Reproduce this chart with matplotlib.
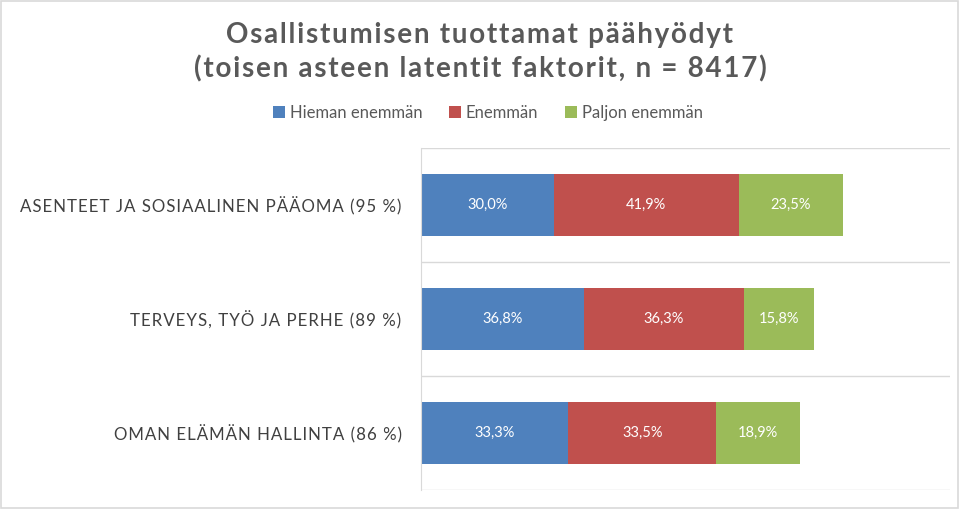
import matplotlib.pyplot as plt
from matplotlib.patches import Rectangle

# data
categories = ['ASENTEET JA SOSIAALINEN PÄÄOMA (95 %)',
              'TERVEYS, TYÖ JA PERHE (89 %)',
              'OMAN ELÄMÄN HALLINTA (86 %)']
series_names = ['Hieman enemmän', 'Enemmän', 'Paljon enemmän']
hieman = [30.0, 36.8, 33.3]
enemman = [41.9, 36.3, 33.5]
paljon = [23.5, 15.8, 18.9]
colors = ['#4F81BD', '#C0504D', '#9BBB59']

title_lines = ['Osallistumisen tuottamat päähyödyt',
               '(toisen asteen latentit faktorit, n = 8417)']

fam = ['Lato', 'DejaVu Sans']


def spaced(s, sp):
    # fake letter spacing
    return sp.join(list(s))


fig = plt.figure(figsize=(9.6, 5.09), dpi=100)
fig.patches.append(Rectangle((0.001, 0.002), 0.997, 0.996, transform=fig.transFigure,
                             fill=False, edgecolor='#D9D9D9', linewidth=1.2))

ax = fig.add_axes([421 / 960, 1 - 490 / 509, 529 / 960, 342 / 509])

y = list(range(len(categories)))
series = [hieman, enemman, paljon]
left = [0.0] * len(categories)
for vals, name, col in zip(series, series_names, colors):
    bars = ax.barh(y, vals, left=left, height=0.55, color=col, label=name)
    for b, v in zip(bars, vals):
        ax.text(b.get_x() + b.get_width() / 2, b.get_y() + b.get_height() / 2,
                f'{v:.1f}%'.replace('.', ','), ha='center', va='center',
                color='white', fontsize=10.5, family=fam)
    left = [l + v for l, v in zip(left, vals)]

ax.set_xlim(0, 119.7)
ax.set_ylim(len(categories) - 0.5, -0.5)
ax.set_xticks([])
ax.set_yticks(y)
ax.set_yticklabels([spaced(c, '\u200a') for c in categories], fontsize=12.2,
                   color='#404040', family=fam)
ax.tick_params(axis='y', length=0, pad=14)
for s in ['top', 'right', 'bottom']:
    ax.spines[s].set_visible(False)
ax.spines['left'].set_color('#D9D9D9')
for g in [-0.5, 0.5, 1.5, 2.5]:
    ax.axhline(g, color='#D9D9D9', linewidth=1, zorder=0)

fig.text(0.5, 1 - 35 / 509, spaced(title_lines[0], '\u200a'), ha='center', va='center',
         fontsize=20, fontweight='bold', color='#595959', family=fam)
fig.text(0.5, 1 - 69 / 509, spaced(title_lines[1], '\u200a'), ha='center', va='center',
         fontsize=20, fontweight='bold', color='#595959', family=fam)

handles, labels = ax.get_legend_handles_labels()
fig.legend(handles, labels, loc='center', bbox_to_anchor=(488 / 960, 1 - 113 / 509),
           ncol=3, frameon=False, handlelength=0.7, handleheight=0.7,
           handletextpad=0.3, columnspacing=1.6, labelcolor='#595959',
           prop={'family': fam, 'size': 12})

fig.savefig('out.png', dpi=100)
